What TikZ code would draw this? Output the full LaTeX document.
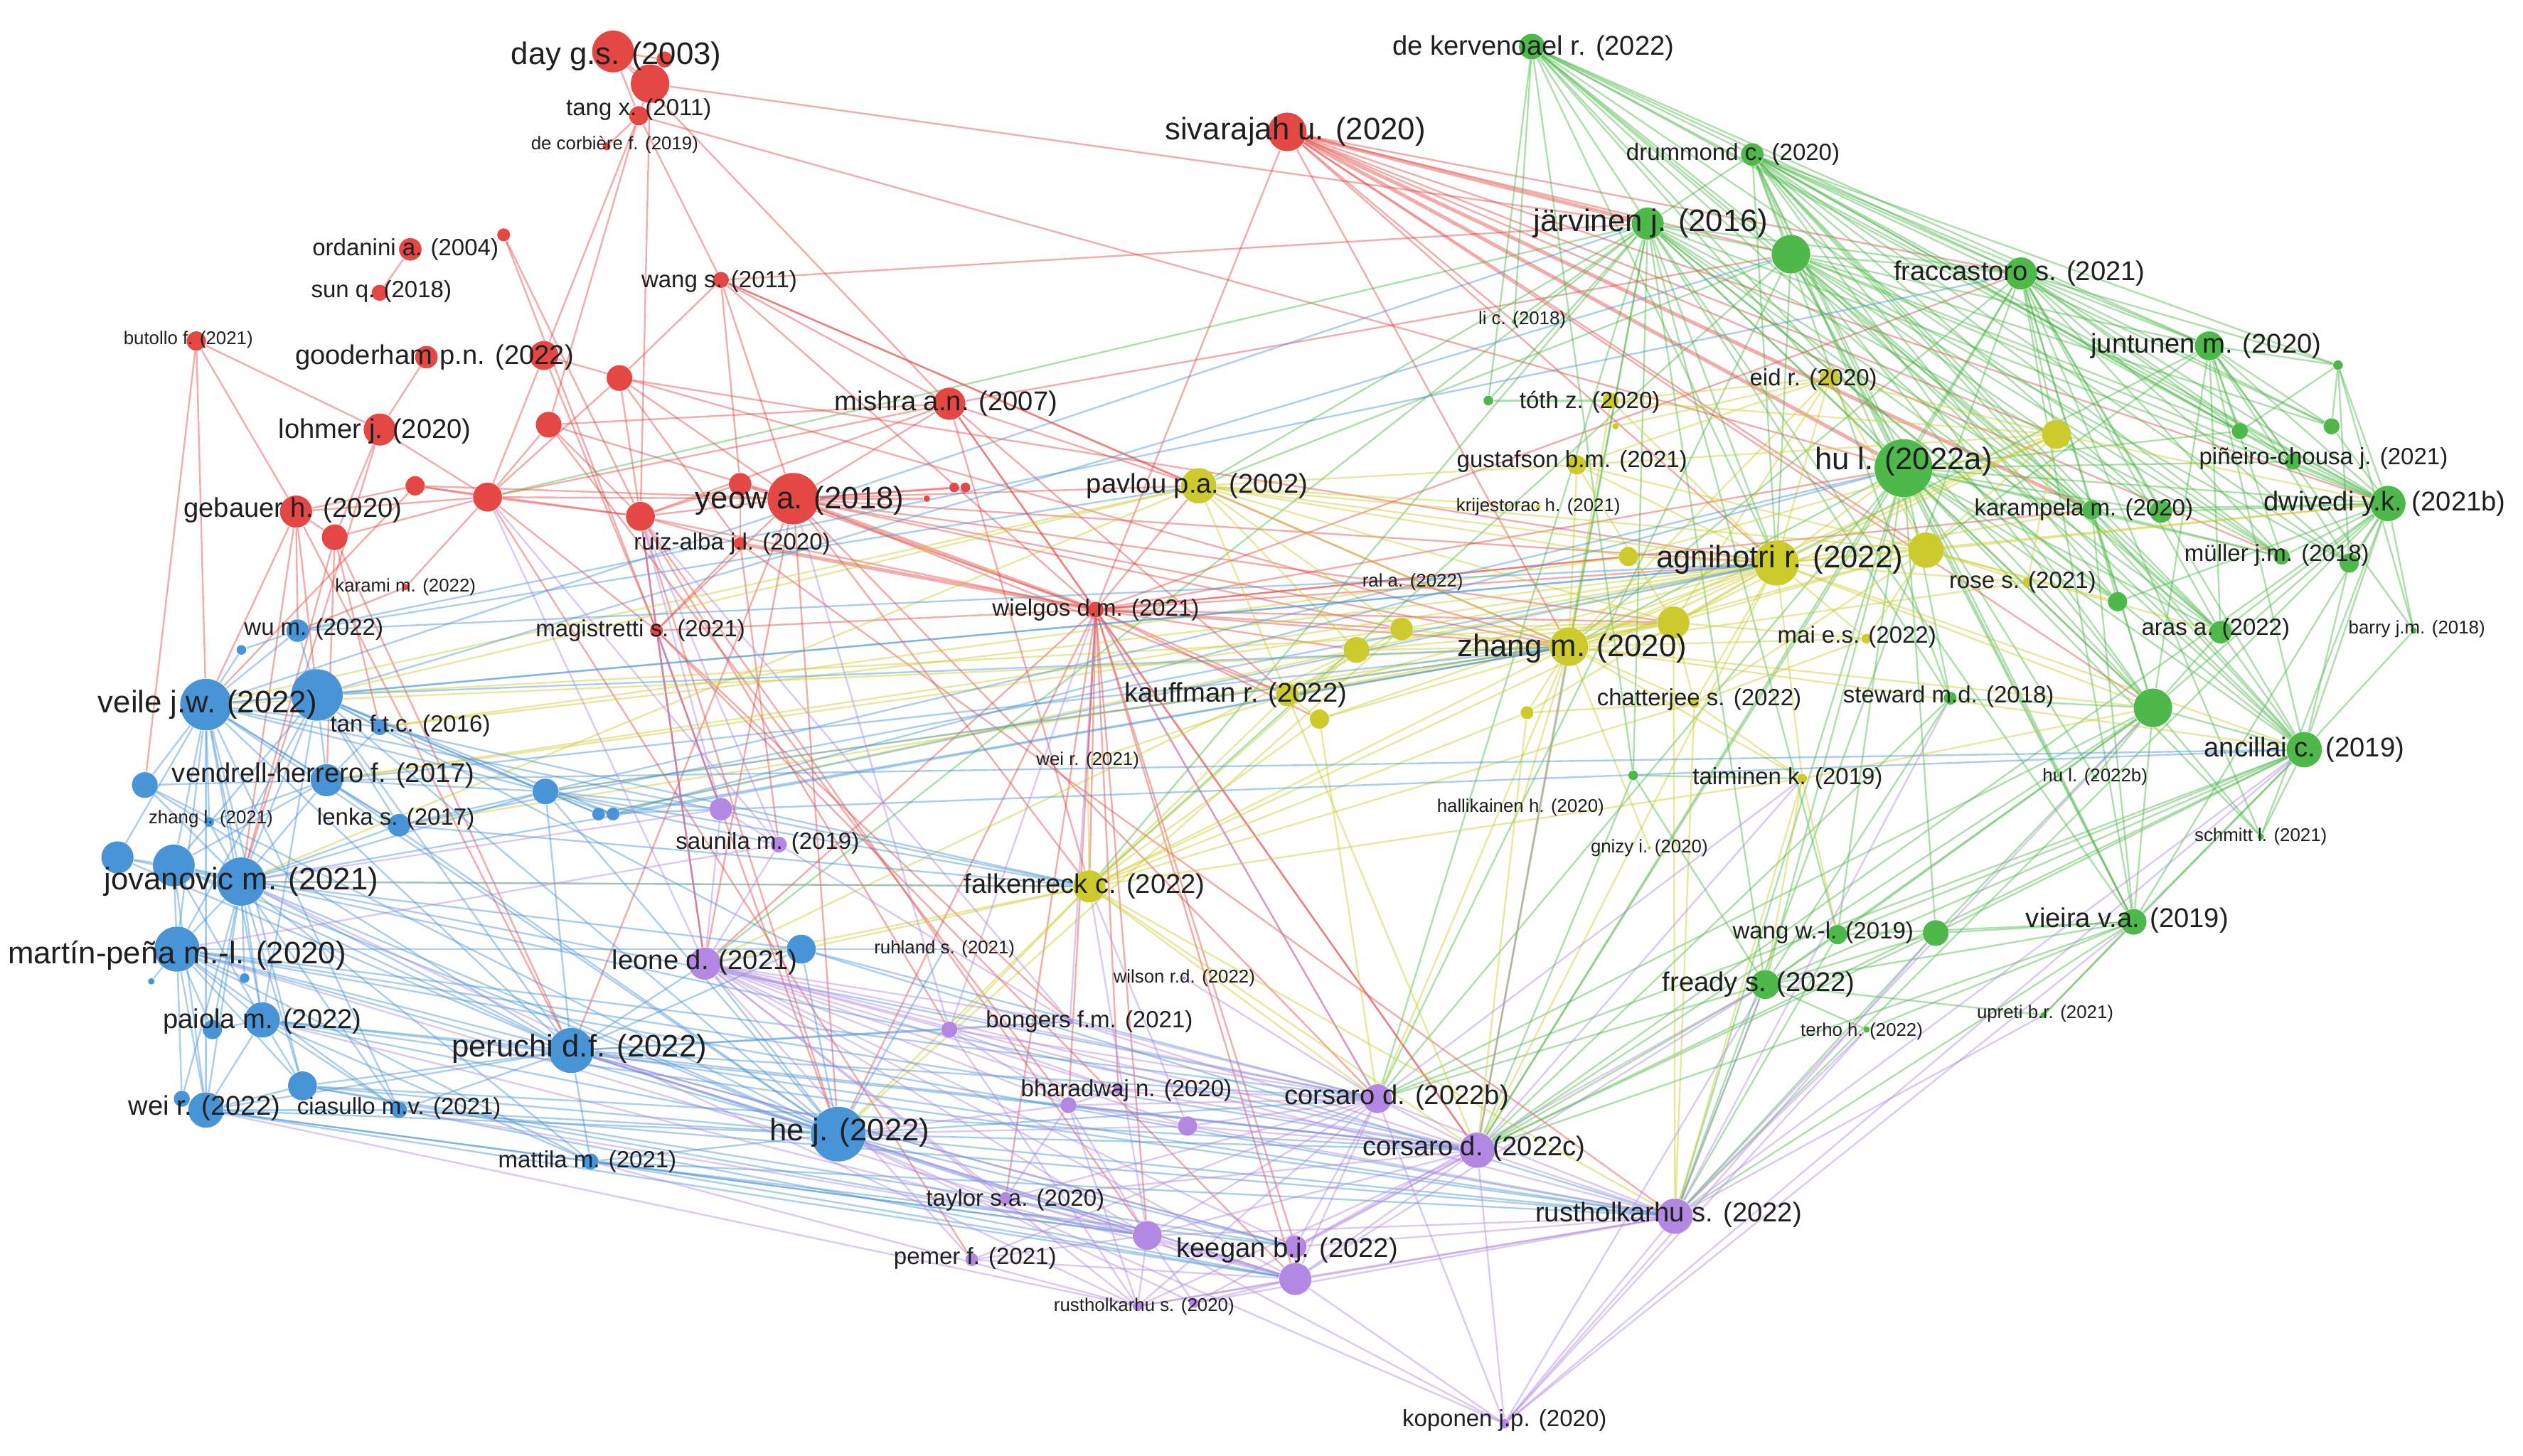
\documentclass[tikz,border=0pt]{standalone}
\usepackage{fontspec}
\setmainfont{Liberation Sans}
\usepackage{xcolor}
\usepackage{tikz}
\pgfdeclarelayer{background}
\pgfdeclarelayer{foreground}
\pgfsetlayers{background,main,foreground}

\definecolor{vred}{RGB}{228,72,68}
\definecolor{vgreen}{RGB}{78,184,74}
\definecolor{vblue}{RGB}{72,148,214}
\definecolor{vyel}{RGB}{204,202,44}
\definecolor{vpur}{RGB}{178,136,226}

\begin{document}
\begin{tikzpicture}[x=0.02cm, y=-0.02cm,
  bub/.style={circle, inner sep=0pt, minimum size=#1*0.04cm},
  reddot/.style={bub=#1, fill=vred},
  grndot/.style={bub=#1, fill=vgreen},
  bludot/.style={bub=#1, fill=vblue},
  yeldot/.style={bub=#1, fill=vyel},
  purdot/.style={bub=#1, fill=vpur},
  edge/.style={line width=0.6pt, draw opacity=0.45},
  rline/.style={edge, draw=vred},
  rthick/.style={rline, line width=1.3pt},
  gline/.style={edge, draw=vgreen},
  bline/.style={edge, draw=vblue},
  yline/.style={edge, draw=vyel},
  pline/.style={edge, draw=vpur},
  lab/.style={inner sep=0pt, text=black!88},
  lxl/.style={lab, font=\fontsize{11}{12}\selectfont},
  lbig/.style={lab, font=\fontsize{9.6}{11}\selectfont},
  lmid/.style={lab, font=\fontsize{8.3}{9}\selectfont},
  lsm/.style={lab, font=\fontsize{6.5}{7}\selectfont}
]
\useasboundingbox (0,0) rectangle (1568,905);

% red cluster
\node[reddot=13] (day) at (381,32) {};
\node[reddot=12] (dayb) at (404,52) {};
\node[reddot=5] (dayc) at (413,37) {};
\node[reddot=6] (tang) at (397,72) {};
\node[reddot=2.5] (corb) at (377,91) {};
\node[reddot=12] (siva) at (800,82) {};
\node[reddot=7] (orda) at (255,155) {};
\node[reddot=4] (ordb) at (313,146) {};
\node[reddot=5] (sunq) at (236,182) {};
\node[reddot=5] (wangs) at (448,174) {};
\node[reddot=6] (buto) at (122,212) {};
\node[reddot=7] (good) at (265,222) {};
\node[reddot=9] (goodb) at (338,221) {};
\node[reddot=8] (ra) at (385,235) {};
\node[reddot=10] (lohm) at (236,267) {};
\node[reddot=10] (mish) at (590,251) {};
\node[reddot=8] (rb) at (341,264) {};
\node[reddot=9] (rc) at (303,309) {};
\node[reddot=6] (rd) at (258,302) {};
\node[reddot=9] (re) at (398,321) {};
\node[reddot=7] (rf) at (460,301) {};
\node[reddot=10] (geb) at (184,318) {};
\node[reddot=8] (gebb) at (208,334) {};
\node[reddot=16] (yeow) at (493,310) {};
\node[reddot=2] (rg) at (576,310) {};
\node[reddot=3] (rh) at (593,303) {};
\node[reddot=3] (ri) at (600,303) {};
\node[reddot=4] (ruiz) at (460,338) {};
\node[reddot=2] (kara) at (252,365) {};
\node[reddot=4] (magi) at (408,392) {};
\node[reddot=5] (wiel) at (681,379) {};

% green cluster
\node[grndot=8] (kerv) at (952,29) {};
\node[grndot=7] (drum) at (1089,96) {};
\node[grndot=10] (jarv) at (1024,139) {};
\node[grndot=12] (ga) at (1113,158) {};
\node[grndot=10] (frac) at (1256,170) {};
\node[grndot=9] (junt) at (1373,215) {};
\node[grndot=3] (gb) at (1453,227) {};
\node[grndot=1.5] (lic) at (941,200) {};
\node[grndot=3] (gc) at (925,249) {};
\node[grndot=5] (gd) at (1392,268) {};
\node[grndot=5] (ge) at (1449,265) {};
\node[grndot=5] (pine) at (1425,287) {};
\node[grndot=18] (hula) at (1183,291) {};
\node[grndot=11] (dwiv) at (1484,313) {};
\node[grndot=6] (karp) at (1300,317) {};
\node[grndot=7] (gf) at (1343,318) {};
\node[grndot=5] (mull) at (1418,346) {};
\node[grndot=6] (gg) at (1460,350) {};
\node[grndot=6] (gh) at (1316,374) {};
\node[grndot=7] (aras) at (1380,393) {};
\node[grndot=2] (barry) at (1500,392) {};
\node[grndot=4] (stew) at (1212,434) {};
\node[grndot=12] (gi) at (1338,440) {};
\node[grndot=11] (anci) at (1432,466) {};
\node[grndot=3] (gj) at (1015,482) {};
\node[grndot=1.5] (hulb) at (1302,483) {};
\node[grndot=2] (schm) at (1405,520) {};
\node[grndot=6] (wangw) at (1142,581) {};
\node[grndot=8] (gk) at (1203,580) {};
\node[grndot=8] (viei) at (1326,573) {};
\node[grndot=9] (fready) at (1097,612) {};
\node[grndot=2] (terho) at (1160,640) {};
\node[grndot=2] (upreti) at (1270,631) {};

% yellow cluster
\node[yeldot=5] (toth) at (1001,249) {};
\node[yeldot=2] (ya) at (1004,265) {};
\node[yeldot=6] (eid) at (1137,235) {};
\node[yeldot=9] (yb) at (1278,270) {};
\node[yeldot=6] (gust) at (980,289) {};
\node[yeldot=1.5] (krij) at (956,315) {};
\node[yeldot=14] (agni) at (1104,350) {};
\node[yeldot=11] (yc) at (1197,342) {};
\node[yeldot=6] (yd) at (1012,346) {};
\node[yeldot=3] (rose) at (1260,362) {};
\node[yeldot=1.5] (ral) at (878,362) {};
\node[yeldot=3] (mai) at (1160,397) {};
\node[yeldot=12] (zhang) at (975,402) {};
\node[yeldot=10] (ye) at (1040,387) {};
\node[yeldot=7] (yf) at (871,391) {};
\node[yeldot=8] (yg) at (843,404) {};
\node[yeldot=7] (kauf) at (800,432) {};
\node[yeldot=6] (yh) at (820,447) {};
\node[yeldot=4] (yi) at (949,443) {};
\node[yeldot=3] (chat) at (1053,437) {};
\node[yeldot=3] (taim) at (1120,484) {};
\node[yeldot=11] (pavl) at (745,302) {};
\node[yeldot=10] (falk) at (677,551) {};
\node[yeldot=1] (weir21) at (676,473) {};
\node[yeldot=1] (hall) at (945,502) {};
\node[yeldot=1] (gnizy) at (1025,527) {};

% blue cluster
\node[bludot=16] (veile) at (128,438) {};
\node[bludot=16] (ba) at (197,432) {};
\node[bludot=7] (wum) at (185,392) {};
\node[bludot=3] (bb) at (150,404) {};
\node[bludot=5] (tan) at (236,452) {};
\node[bludot=10] (vend) at (203,485) {};
\node[bludot=8] (bc) at (90,488) {};
\node[bludot=3] (zhangl) at (130,511) {};
\node[bludot=7] (lenka) at (248,513) {};
\node[bludot=15] (jova) at (150,548) {};
\node[bludot=13] (bd) at (108,538) {};
\node[bludot=10] (be) at (73,533) {};
\node[bludot=14] (mart) at (110,590) {};
\node[bludot=2] (bf) at (94,610) {};
\node[bludot=3] (bg) at (152,608) {};
\node[bludot=11] (paio) at (163,634) {};
\node[bludot=6] (bh) at (132,640) {};
\node[bludot=14] (peru) at (355,653) {};
\node[bludot=11] (weir) at (128,690) {};
\node[bludot=5] (bi) at (113,683) {};
\node[bludot=9] (bj) at (188,675) {};
\node[bludot=5] (cias) at (248,690) {};
\node[bludot=5] (matt) at (367,722) {};
\node[bludot=17] (hej) at (521,705) {};
\node[bludot=8] (bk) at (339,492) {};
\node[bludot=4] (bl) at (372,506) {};
\node[bludot=4] (bm) at (381,506) {};
\node[bludot=9] (bn) at (498,590) {};
\node[bludot=1] (ruhl) at (587,590) {};

% purple cluster
\node[purdot=5] (saun) at (484,525) {};
\node[purdot=7] (pa) at (448,503) {};
\node[purdot=10] (leone) at (438,599) {};
\node[purdot=1] (wils) at (736,608) {};
\node[purdot=2] (bong) at (665,635) {};
\node[purdot=5] (pb) at (590,640) {};
\node[purdot=3] (bhar) at (695,677) {};
\node[purdot=5] (pc) at (664,687) {};
\node[purdot=6] (pd) at (738,700) {};
\node[purdot=9] (cors) at (856,683) {};
\node[purdot=11] (corc) at (918,715) {};
\node[purdot=11] (rust) at (1041,756) {};
\node[purdot=4] (tayl) at (625,745) {};
\node[purdot=9] (pe) at (713,768) {};
\node[purdot=7] (keeg) at (805,775) {};
\node[purdot=10] (pf) at (805,795) {};
\node[purdot=4] (pemer) at (604,783) {};
\node[purdot=3] (rusta) at (707,812) {};
\node[purdot=3] (pg) at (742,810) {};
\node[purdot=3] (kopo) at (935,885) {};

\begin{pgfonlayer}{background}
\fill[white] (0,0) rectangle (1568,905);
% red links
\foreach \a/\b in {day/tang, day/dayb, dayb/tang, dayc/day, tang/corb, tang/wangs,
  tang/rb, tang/goodb, dayb/re, tang/hula, dayb/jarv, day/mish, ordb/re, ordb/magi,
  orda/sunq, wangs/ra, wangs/rf, wangs/yeow, wangs/wiel, wangs/mish, wangs/jarv,
  wangs/zhang, wangs/pavl, buto/lohm, buto/geb, buto/bc, buto/veile, goodb/rc,
  goodb/magi, good/lohm, ra/rc, ra/ruiz, ra/re, ra/yeow, lohm/gebb, lohm/rc,
  mish/rc, mish/yeow, mish/re, mish/wiel, mish/pavl, mish/ga, mish/rb, rb/re, rb/rc,
  rb/yeow, rc/yeow, rc/re, rc/rd, rc/geb, rc/magi, rc/kara, rc/gebb, rd/geb, rd/yeow,
  rd/re, re/yeow, re/ruiz, re/wiel, re/magi, re/leone, re/pb, rf/yeow, rf/ruiz, rf/re,
  geb/gebb, geb/veile, geb/wum, geb/ba, gebb/jova, gebb/vend, gebb/tan, yeow/rg,
  yeow/rh, yeow/ri, yeow/pavl, yeow/agni, yeow/zhang, yeow/ye,
  yeow/magi, yeow/falk, yeow/yf, yeow/kauf, yeow/hej, ruiz/magi, ruiz/saun,
  magi/wiel, magi/leone, magi/pa, magi/bong, wiel/pavl, wiel/agni, wiel/zhang, wiel/ye,
  wiel/yf, wiel/yg, wiel/kauf, wiel/falk, wiel/yh, wiel/hej, wiel/bhar, wiel/weir21,
  wiel/yd, wiel/hula, wiel/karp, wiel/frac, wiel/pc, wiel/cors, siva/ga,
  siva/frac, siva/agni, siva/dwiv, siva/yc, siva/lic, siva/wiel,
  siva/mull, siva/gi, siva/yb, siva/zhang, kara/wum, rd/veile, geb/jova,
  wiel/corc, wiel/keeg, wiel/pf, wiel/pe, wiel/tayl, wiel/leone, yeow/peru, yeow/leone,
  yeow/cors, re/hej, re/pe, rc/pemer, magi/pf, magi/hej, ruiz/rust, rb/pc, mish/falk,
  mish/corc, mish/kauf, rf/wiel, geb/peru, lohm/jova, gebb/peru, ra/agni, goodb/zhang}
  \draw[rline] (\a) -- (\b);
\foreach \a/\b in {siva/jarv, siva/hula, siva/karp, wiel/yeow, wiel/ruiz}
  \draw[rthick] (\a) -- (\b);
% green links
\foreach \a/\b in {kerv/drum, kerv/jarv, kerv/ga, kerv/frac, kerv/junt, kerv/hula,
  kerv/dwiv, kerv/karp, kerv/mull, kerv/aras, kerv/gi, kerv/anci, kerv/gd, kerv/gj,
  kerv/gc, drum/jarv, drum/ga, drum/frac, drum/junt, drum/gb, drum/hula, drum/pine,
  drum/dwiv, drum/karp, drum/gf, drum/mull, drum/gg, drum/aras, drum/gi, drum/anci,
  drum/viei, drum/gd, drum/ge, drum/stew, drum/gh, jarv/ga, jarv/frac, jarv/hula,
  jarv/karp, jarv/dwiv, jarv/anci, jarv/gi, jarv/aras, jarv/wangw, jarv/fready,
  jarv/gc, jarv/gj, jarv/stew, jarv/lic, jarv/mull, jarv/gh, jarv/viei, jarv/rc,
  jarv/falk, jarv/leone, ga/frac, ga/junt, ga/hula, ga/dwiv, ga/karp, ga/gf, ga/aras,
  ga/anci, ga/gi, ga/mull, ga/gg, ga/viei, ga/gd, ga/ge, ga/falk, frac/junt, frac/gb,
  frac/hula, frac/dwiv, frac/karp, frac/gf, frac/aras, frac/anci, frac/gi, frac/mull,
  frac/gg, frac/pine, frac/gd, frac/ge, frac/viei, frac/schm, frac/corc, junt/gb,
  junt/gd, junt/ge, junt/pine, junt/dwiv, junt/mull, junt/gg, junt/aras, junt/anci,
  junt/gi, junt/barry, gb/ge, gb/gd, gb/dwiv, gb/gg, gb/barry, hula/dwiv, hula/karp,
  hula/gf, hula/aras, hula/anci, hula/gi, hula/mull, hula/gh, hula/stew, hula/viei,
  hula/fready, hula/wangw, hula/gk, hula/hulb, hula/schm, hula/pine, hula/gd,
  hula/rust, dwiv/karp, dwiv/gf, dwiv/aras, dwiv/anci, dwiv/gi, dwiv/mull, dwiv/gg,
  dwiv/barry, dwiv/schm, dwiv/viei, dwiv/pine, dwiv/gd, dwiv/ge, dwiv/gh, dwiv/rust,
  karp/aras, karp/gi, karp/anci, karp/gh, karp/viei, karp/mull, gi/anci, gi/aras,
  gi/viei, gi/fready, gi/wangw, gi/gk, gi/schm, gi/hulb, gi/stew, gi/cors, anci/schm,
  anci/viei, anci/fready, anci/gk, anci/wangw, anci/upreti, anci/barry, anci/aras,
  anci/gg, anci/corc, viei/fready, viei/upreti, viei/terho, viei/wangw, viei/gk,
  viei/rust, fready/wangw, fready/gk, fready/terho, fready/upreti, fready/stew,
  fready/gj, fready/corc, gk/rust, gc/toth, gj/taim,
  jarv/corc, jarv/cors, ga/cors, hula/corc, hula/cors, frac/rust, gi/corc, anci/cors,
  viei/corc, fready/cors, fready/rust, wangw/rust, gk/corc, stew/corc, gj/corc,
  dwiv/corc, jarv/zhang, jarv/agni, ga/agni, drum/agni, kerv/agni, junt/agni,
  hula/zhang, frac/zhang, jarv/pavl, ga/pavl, kerv/lic, drum/yc, frac/yb, junt/yc}
  \draw[gline] (\a) -- (\b);
% yellow links
\foreach \a/\b in {agni/yc, agni/yd, agni/zhang, agni/ye, agni/yf, agni/yg, agni/kauf,
  agni/yh, agni/yi, agni/chat, agni/mai, agni/rose, agni/eid, agni/yb, agni/gust,
  agni/toth, agni/taim, agni/pavl, agni/falk, agni/hula, agni/dwiv, agni/karp, agni/tan,
  zhang/ye, zhang/yf, zhang/yg, zhang/kauf, zhang/yh, zhang/yi, zhang/chat, zhang/mai,
  zhang/rose, zhang/eid, zhang/yb, zhang/gust, zhang/toth, zhang/taim, zhang/pavl,
  zhang/falk, zhang/yc, zhang/anci, zhang/gi, zhang/hall, zhang/gnizy, zhang/bk,
  ye/yf, ye/yg, ye/kauf, ye/chat, ye/yc, ye/eid, ye/yb, ye/mai, ye/gust, ye/lenka,
  pavl/yf, pavl/yg, pavl/kauf, pavl/yd, pavl/ye, pavl/gust, pavl/krij, pavl/yc, pavl/ba,
  yc/rose, yc/mai, yc/eid, yc/yb, yc/gust, yc/chat, yc/aras, yc/gh, yb/eid, yb/rose,
  yb/gust, yb/toth, yb/yd, kauf/yh, kauf/falk, kauf/yg, kauf/yf, kauf/weir21, falk/yh,
  falk/yi, falk/yg, falk/weir21, falk/chat, falk/taim, falk/bn, falk/jova, taim/gi,
  taim/fready, taim/wangw, taim/chat, chat/yi, chat/mai, eid/toth, eid/gust, eid/ya,
  yg/bl, yf/vend, falk/leone, falk/pb, falk/cors, falk/corc, falk/rust, falk/hej,
  zhang/corc, zhang/cors, agni/corc, kauf/corc, yh/cors, taim/rust, chat/rust,
  yi/corc, yg/leone, yf/hej, ye/rust, pavl/veile, pavl/jova, agni/anci, agni/gi,
  yc/dwiv, yb/dwiv, agni/vend, zhang/veile, ye/ba, yd/tan}
  \draw[yline] (\a) -- (\b);
% blue links
\foreach \a/\b in {veile/ba, veile/wum, veile/bb, veile/tan, veile/vend, veile/bc,
  veile/zhangl, veile/lenka, veile/jova, veile/bd, veile/be, veile/mart, veile/paio,
  veile/peru, veile/weir, veile/hej, veile/bk, veile/cias, veile/bj, veile/jarv,
  ba/wum, ba/tan, ba/vend, ba/lenka, ba/jova, ba/bd, ba/mart, ba/paio, ba/peru, ba/hej,
  ba/bk, ba/bl, ba/bm, ba/bn, ba/ga, jova/bd, jova/be, jova/vend, jova/bc, jova/zhangl,
  jova/lenka, jova/mart, jova/paio, jova/bh, jova/peru, jova/weir, jova/bi, jova/bj,
  jova/cias, jova/matt, jova/hej, jova/bk, jova/bn, jova/bg, jova/zhang, bd/be, bd/mart,
  bd/paio, bd/weir, bd/peru, bd/hej, bd/vend, mart/paio, mart/bh, mart/weir, mart/bi,
  mart/bj, mart/cias, mart/peru, mart/hej, mart/matt, mart/bf, mart/bg, mart/bn,
  mart/corc, paio/bh, paio/weir, paio/bj, paio/cias, paio/peru, paio/hej, paio/matt,
  peru/weir, peru/bj, peru/cias, peru/matt, peru/hej, peru/bn, peru/bk, peru/leone,
  peru/bong, peru/pb, peru/cors, peru/corc, peru/rust, weir/bi, weir/bj, weir/cias,
  weir/hej, weir/matt, hej/matt, hej/bj, hej/cias, hej/bn, hej/bk, hej/leone, hej/ruhl,
  hej/cors, hej/corc, hej/rust, bk/bl, bk/bm, bk/vend, bk/lenka, bk/tan, bk/pa,
  bk/saun, bk/hula, vend/tan, vend/lenka, vend/bc, vend/zhangl, vend/hej, vend/anci,
  bn/leone, bn/ruhl, wum/bb, wum/frac, lenka/agni, matt/keeg, matt/pe,
  veile/falk, veile/agni, ba/zhang, ba/agni, jova/falk, jova/corc, mart/cors, mart/rust,
  paio/corc, paio/rust, weir/pe, weir/pf, cias/rust, bj/keeg, bj/corc, bk/falk,
  bk/zhang, bl/agni, bm/zhang, bn/cors, bn/rust, vend/zhang, tan/falk, lenka/falk,
  bc/hej, wum/pavl, wum/agni, hej/keeg, hej/pf, peru/keeg, peru/pe, matt/pf, matt/rust,
  cias/pf, bj/pe, be/peru, bd/cors, bc/peru, bm/hula, bl/anci}
  \draw[bline] (\a) -- (\b);
% purple links
\foreach \a/\b in {leone/pa, leone/saun, leone/pb, leone/pc, leone/bhar, leone/pd,
  leone/cors, leone/corc, leone/rust, leone/tayl, leone/pe, leone/keeg, leone/pf,
  leone/pemer, leone/rusta, leone/bong, cors/corc, cors/rust, cors/pc, cors/pd,
  cors/bhar, cors/pe, cors/keeg, cors/pf, cors/tayl, cors/pemer, cors/rusta, cors/kopo,
  cors/pb, cors/bong, cors/wils, corc/rust, corc/pd, corc/pc, corc/pe, corc/keeg,
  corc/pf, corc/rusta, corc/pg, corc/kopo, corc/tayl, corc/bhar, corc/bong, rust/pe,
  rust/keeg, rust/pf, rust/rusta, rust/pg, rust/kopo, rust/pd, rust/terho, rust/upreti,
  pf/rusta, pf/pg, pf/kopo, pf/pe, pf/keeg, pf/pemer, pf/tayl, pe/rusta, pe/pg,
  pe/tayl, pe/pemer, pe/pc, pc/pd, pc/pb, pc/bhar, pc/rusta, pc/tayl, pb/bong, pb/bhar,
  pb/rusta, saun/pa, saun/bong, pc/hej, pd/hej, pe/hej, pf/peru, rusta/matt, keeg/peru,
  pg/hej, tayl/mart, rusta/weir, pf/paio, pe/cias, rusta/jova, pa/magi, pb/wiel,
  bong/re, kopo/fready, kopo/terho, kopo/hej, kopo/pe,
  saun/re, saun/rc, pa/re, leone/re, leone/rc, bong/wiel, pb/yeow, cors/wiel,
  corc/zhang, rust/fready, rust/gi, rust/anci, kopo/viei, kopo/gk, kopo/anci, pd/falk,
  keeg/fready, pf/fready, cors/taim, corc/taim, rust/stew, pe/falk, pa/jova, saun/mart}
  \draw[pline] (\a) -- (\b);
\end{pgfonlayer}

\begin{pgfonlayer}{foreground}
% red labels
\node[lxl] (day-t) at (383,35) {day g.s. (2003)};
\node[lmid] (tang-t) at (397,68) {tang x. (2011)};
\node[lsm] (corb-t) at (382,90) {de corbière f. (2019)};
\node[lxl] (siva-t) at (805,82) {sivarajah u. (2020)};
\node[lmid] (orda-t) at (252,155) {ordanini a. (2004)};
\node[lmid] (sunq-t) at (237,181) {sun q. (2018)};
\node[lmid] (wangs-t) at (447,175) {wang s. (2011)};
\node[lsm] (buto-t) at (117,211) {butollo f. (2021)};
\node[lbig] (good-t) at (270,222) {gooderham p.n. (2022)};
\node[lbig] (lohm-t) at (233,268) {lohmer j. (2020)};
\node[lbig] (mish-t) at (588,251) {mishra a.n. (2007)};
\node[lbig] (geb-t) at (182,317) {gebauer h. (2020)};
\node[lxl] (yeow-t) at (497,311) {yeow a. (2018)};
\node[lmid] (ruiz-t) at (455,338) {ruiz-alba j.l. (2020)};
\node[lsm] (kara-t) at (252,365) {karami m. (2022)};
\node[lmid] (magi-t) at (398,392) {magistretti s. (2021)};
\node[lmid] (wiel-t) at (681,379) {wielgos d.m. (2021)};
% green and yellow labels
\node[lbig] (kerv-t) at (953,30) {de kervenoael r. (2022)};
\node[lmid] (drum-t) at (1077,96) {drummond c. (2020)};
\node[lxl] (jarv-t) at (1026,139) {järvinen j. (2016)};
\node[lbig] (frac-t) at (1255,170) {fraccastoro s. (2021)};
\node[lbig] (junt-t) at (1371,215) {juntunen m. (2020)};
\node[lsm] (lic-t) at (946,199) {li c. (2018)};
\node[lmid] (toth-t) at (988,250) {tóth z. (2020)};
\node[lmid] (eid-t) at (1127,236) {eid r. (2020)};
\node[lmid] (pine-t) at (1444,285) {piñeiro-chousa j. (2021)};
\node[lxl] (hula-t) at (1183,287) {hu l. (2022a)};
\node[lmid] (gust-t) at (977,287) {gustafson b.m. (2021)};
\node[lsm] (krij-t) at (956,315) {krijestorac h. (2021)};
\node[lbig] (dwiv-t) at (1482,313) {dwivedi y.k. (2021b)};
\node[lmid] (karp-t) at (1295,317) {karampela m. (2020)};
\node[lbig] (pavl-t) at (744,302) {pavlou p.a. (2002)};
\node[lxl] (agni-t) at (1106,348) {agnihotri r. (2022)};
\node[lmid] (mull-t) at (1415,345) {müller j.m. (2018)};
\node[lmid] (rose-t) at (1257,362) {rose s. (2021)};
\node[lsm] (ral-t) at (878,362) {ral a. (2022)};
\node[lmid] (aras-t) at (1377,391) {aras a. (2022)};
\node[lsm] (barry-t) at (1502,391) {barry j.m. (2018)};
\node[lmid] (mai-t) at (1154,396) {mai e.s. (2022)};
\node[lxl] (zhang-t) at (977,403) {zhang m. (2020)};
\node[lbig] (kauf-t) at (768,432) {kauffman r. (2022)};
\node[lmid] (chat-t) at (1056,435) {chatterjee s. (2022)};
\node[lmid] (stew-t) at (1211,433) {steward m.d. (2018)};
\node[lbig] (anci-t) at (1432,466) {ancillai c. (2019)};
\node[lsm] (weir21-t) at (676,473) {wei r. (2021)};
\node[lmid] (taim-t) at (1111,484) {taiminen k. (2019)};
\node[lsm] (hulb-t) at (1302,483) {hu l. (2022b)};
\node[lsm] (hall-t) at (945,502) {hallikainen h. (2020)};
\node[lsm] (schm-t) at (1405,520) {schmitt l. (2021)};
\node[lsm] (gnizy-t) at (1025,527) {gnizy i. (2020)};
\node[lbig] (falk-t) at (674,551) {falkenreck c. (2022)};
\node[lmid] (wangw-t) at (1133,580) {wang w.-l. (2019)};
\node[lbig] (viei-t) at (1322,572) {vieira v.a. (2019)};
\node[lbig] (fready-t) at (1093,612) {fready s. (2022)};
\node[lsm] (terho-t) at (1157,641) {terho h. (2022)};
\node[lsm] (upreti-t) at (1271,630) {upreti b.r. (2021)};
% blue labels
\node[lxl] (veile-t) at (129,438) {veile j.w. (2022)};
\node[lmid] (wum-t) at (195,391) {wu m. (2022)};
\node[lmid] (tan-t) at (255,451) {tan f.t.c. (2016)};
\node[lbig] (vend-t) at (201,482) {vendrell-herrero f. (2017)};
\node[lsm] (zhangl-t) at (131,509) {zhang l. (2021)};
\node[lmid] (lenka-t) at (246,509) {lenka s. (2017)};
\node[lxl] (jova-t) at (150,548) {jovanovic m. (2021)};
\node[lxl] (mart-t) at (110,594) {martín-peña m.-l. (2020)};
\node[lbig] (paio-t) at (163,635) {paiola m. (2022)};
\node[lxl] (peru-t) at (360,652) {peruchi d.f. (2022)};
\node[lbig] (weir-t) at (127,689) {wei r. (2022)};
\node[lmid] (cias-t) at (248,689) {ciasullo m.v. (2021)};
\node[lmid] (matt-t) at (365,722) {mattila m. (2021)};
\node[lxl] (hej-t) at (528,704) {he j. (2022)};
\node[lsm] (ruhl-t) at (587,590) {ruhland s. (2021)};
% purple labels
\node[lmid] (saun-t) at (477,524) {saunila m. (2019)};
\node[lbig] (leone-t) at (438,598) {leone d. (2021)};
\node[lsm] (wils-t) at (736,608) {wilson r.d. (2022)};
\node[lmid] (bong-t) at (677,635) {bongers f.m. (2021)};
\node[lmid] (bhar-t) at (700,678) {bharadwaj n. (2020)};
\node[lbig] (cors-t) at (868,682) {corsaro d. (2022b)};
\node[lbig] (corc-t) at (916,714) {corsaro d. (2022c)};
\node[lbig] (rust-t) at (1037,755) {rustholkarhu s. (2022)};
\node[lmid] (tayl-t) at (631,746) {taylor s.a. (2020)};
\node[lbig] (keeg-t) at (800,777) {keegan b.j. (2022)};
\node[lmid] (pemer-t) at (606,782) {pemer f. (2021)};
\node[lsm] (rusta-t) at (711,812) {rustholkarhu s. (2020)};
\node[lmid] (kopo-t) at (935,883) {koponen j.p. (2020)};
\end{pgfonlayer}
\end{tikzpicture}
\end{document}
